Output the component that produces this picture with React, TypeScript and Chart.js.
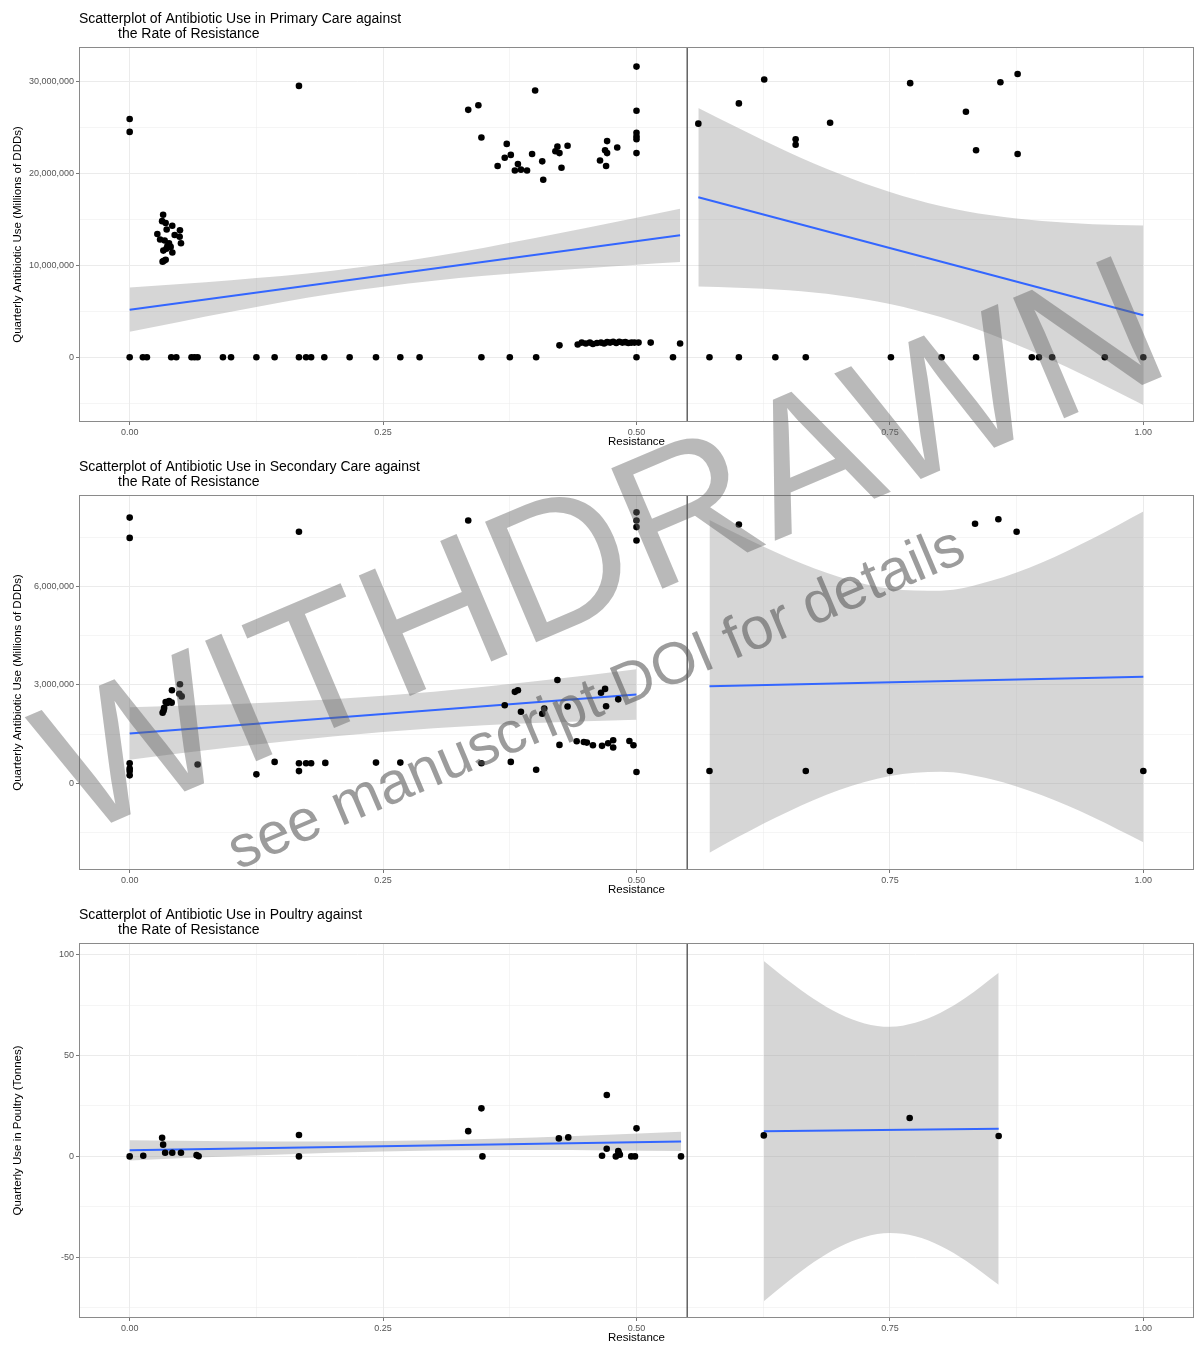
import { useEffect, useRef } from "react";
import { Chart, registerables } from "chart.js";

Chart.register(...registerables);

const FONT = '"Liberation Sans", Arial, Helvetica, sans-serif';
const BLUE = "#3366FF";
const BAND = "rgba(153,153,153,0.4)";
const MILLION = 1000000;

// shared x axis
const xMajorTicks = [0, 0.25, 0.5, 0.75, 1.0];
const xMinorTicks = [0.125, 0.375, 0.625, 0.875];
const xRange = [-0.05, 1.05];
const splitResistance = 0.55;

// ---------- Panel 1: Primary care (use in millions of DDDs) ----------
const primaryResistance = [
  0, 0, 0.167,
  0.033, 0.032, 0.0355, 0.042, 0.0365, 0.0496, 0.0273, 0.0444, 0.0493, 0.03, 0.0345, 0.0388, 0.0506, 0.0372, 0.0404, 0.0362, 0.0332, 0.0421, 0.0355, 0.0338, 0.0325,
  0.334, 0.344, 0.347, 0.363, 0.37, 0.372, 0.376, 0.38, 0.383, 0.386, 0.392, 0.397, 0.4, 0.407, 0.408, 0.42, 0.422, 0.424, 0.426, 0.432, 0.464, 0.469, 0.47, 0.471, 0.471, 0.481, 0.5, 0.5, 0.5, 0.5, 0.5, 0.5,
  0.424, 0.442, 0.446, 0.45, 0.454, 0.457, 0.461, 0.465, 0.468, 0.471, 0.474, 0.477, 0.48, 0.483, 0.486, 0.489, 0.492, 0.495, 0.498, 0.502, 0.514, 0.543,
  0, 0.013, 0.017, 0.041, 0.046, 0.061, 0.064, 0.067, 0.092, 0.1, 0.125, 0.143, 0.167, 0.174, 0.179, 0.192, 0.217, 0.243, 0.267, 0.286, 0.347, 0.375, 0.401, 0.5, 0.536,
  0.572, 0.601, 0.637, 0.667, 0.751, 0.801, 0.835, 0.89, 0.897, 0.91, 0.962, 1.0,
  0.561, 0.601, 0.626, 0.657, 0.657, 0.691, 0.77, 0.825, 0.835, 0.859, 0.876, 0.876,
];
const primaryUse = [
  25.9, 24.5, 29.5,
  15.5, 14.8, 14.6, 14.3, 13.9, 13.8, 13.4, 13.3, 13.1, 12.8, 12.7, 12.4, 12.4, 12.1, 12.0, 11.8, 11.6, 11.4, 10.6, 10.5, 10.4,
  26.9, 27.4, 23.9, 20.8, 21.7, 23.2, 22.0, 20.3, 21.0, 20.4, 20.3, 22.1, 29.0, 21.3, 19.3, 22.4, 22.9, 22.2, 20.6, 23.0, 21.4, 22.5, 20.8, 22.2, 23.5, 22.8, 31.6, 26.8, 24.4, 24.0, 23.7, 22.2,
  1.3, 1.4, 1.6, 1.5, 1.6, 1.45, 1.55, 1.6, 1.5, 1.65, 1.6, 1.7, 1.55, 1.7, 1.6, 1.65, 1.55, 1.6, 1.6, 1.6, 1.6, 1.5,
  0, 0, 0, 0, 0, 0, 0, 0, 0, 0, 0, 0, 0, 0, 0, 0, 0, 0, 0, 0, 0, 0, 0, 0, 0,
  0, 0, 0, 0, 0, 0, 0, 0, 0, 0, 0, 0,
  25.4, 27.6, 30.2, 23.7, 23.1, 25.5, 29.8, 26.7, 22.5, 29.9, 30.8, 22.1,
];
const primaryLeftBandX = [0, 0.1, 0.2, 0.3, 0.4, 0.5, 0.543];
const primaryLeftLower = [2.78, 4.96, 6.91, 8.33, 9.3, 10.07, 10.37];
const primaryLeftUpper = [7.58, 8.38, 9.41, 10.95, 12.96, 15.17, 16.15];
const primaryLeftFitX = [0, 0.543];
const primaryLeftFitY = [5.18, 13.26];
const primaryRightBandX = [0.561, 0.6, 0.65, 0.7, 0.75, 0.8, 0.85, 0.9, 0.95, 1.0];
const primaryRightLower = [7.7, 7.57, 7.28, 6.72, 5.79, 4.37, 2.47, 0.17, -2.41, -5.18];
const primaryRightUpper = [27.1, 24.95, 22.3, 19.96, 17.97, 16.45, 15.43, 14.81, 14.47, 14.32];
const primaryRightFitX = [0.561, 1.0];
const primaryRightFitY = [17.4, 4.57];
const primaryYMajor = [0, 10000000, 20000000, 30000000];
const primaryYMinor = [-5000000, 5000000, 15000000, 25000000];
const primaryYRange = [-7030000, 33730000];

// ---------- Panel 2: Secondary care (use in millions of DDDs) ----------
const secondaryResistance = [
  0, 0, 0, 0, 0, 0,
  0.167, 0.334, 0.5, 0.5, 0.5, 0.5,
  0.0325, 0.0335, 0.034, 0.0355, 0.037, 0.0388, 0.0414, 0.0417, 0.049, 0.0496, 0.0513,
  0.067, 0.125, 0.143, 0.167, 0.167, 0.174, 0.179, 0.193, 0.243, 0.267, 0.347, 0.376, 0.401, 0.5,
  0.37, 0.38, 0.383, 0.386, 0.407, 0.409, 0.422, 0.432, 0.465, 0.469, 0.47, 0.482,
  0.424, 0.441, 0.448, 0.451, 0.457, 0.466, 0.472, 0.477, 0.477, 0.493, 0.497,
  0.601, 0.834, 0.857, 0.875, 0.572, 0.667, 0.75, 1.0,
];
const secondaryUse = [
  8.11, 7.49, 0.61, 0.45, 0.37, 0.24,
  7.68, 8.02, 8.27, 8.02, 7.82, 7.41,
  2.15, 2.22, 2.3, 2.48, 2.45, 2.51, 2.46, 2.84, 2.73, 3.02, 2.65,
  0.57, 0.27, 0.65, 0.61, 0.37, 0.61, 0.61, 0.62, 0.63, 0.63, 0.61, 0.65, 0.41, 0.34,
  2.38, 2.79, 2.84, 2.18, 2.12, 2.28, 3.15, 2.34, 2.76, 2.88, 2.35, 2.56,
  1.17, 1.28, 1.26, 1.24, 1.16, 1.14, 1.22, 1.31, 1.09, 1.29, 1.16,
  7.9, 7.92, 8.06, 7.68, 0.375, 0.375, 0.375, 0.375,
];
const secondaryLeftBandX = [0, 0.1, 0.2, 0.3, 0.4, 0.5];
const secondaryLeftLower = [0.72, 1.1, 1.43, 1.68, 1.84, 1.94];
const secondaryLeftUpper = [2.32, 2.41, 2.56, 2.79, 3.11, 3.48];
const secondaryLeftFitX = [0, 0.5];
const secondaryLeftFitY = [1.52, 2.71];
const secondaryRightBandX = [0.572, 0.6, 0.65, 0.7, 0.75, 0.8, 0.85, 0.9, 0.95, 1.0];
const secondaryRightLower = [-2.12, -1.64, -0.86, -0.21, 0.22, 0.35, 0.12, -0.37, -1.03, -1.8];
const secondaryRightUpper = [8.04, 7.6, 6.88, 6.3, 5.94, 5.88, 6.18, 6.74, 7.47, 8.3];
const secondaryRightFitX = [0.572, 1.0];
const secondaryRightFitY = [2.96, 3.25];
const secondaryYMajor = [0, 3000000, 6000000];
const secondaryYMinor = [-1500000, 1500000, 4500000, 7500000];
const secondaryYRange = [-2650000, 8800000];

// ---------- Panel 3: Poultry (tonnes) ----------
const poultryResistance = [
  0, 0.0134, 0.032, 0.033, 0.035, 0.042, 0.0506, 0.066, 0.068, 0.167, 0.167, 0.334, 0.347, 0.348,
  0.4234, 0.4327, 0.466, 0.4707, 0.4706, 0.4796, 0.4826, 0.482, 0.4836, 0.4948, 0.4985, 0.5, 0.5439,
  0.6256, 0.7695, 0.8573,
];
const poultryUse = [
  0, 0.3, 9.2, 5.8, 1.8, 1.8, 1.8, 0.6, 0.1, 10.6, 0, 12.5, 23.8, 0,
  8.9, 9.4, 0.3, 30.4, 3.8, 0, 1.8, 2.6, 0.8, 0, 0, 13.9, 0,
  10.4, 19.0, 10.1,
];
const poultryLeftBandX = [0, 0.1, 0.2, 0.3, 0.4, 0.544];
const poultryLeftLower = [-2.0, 0.07, 1.83, 2.91, 3.13, 2.62];
const poultryLeftUpper = [8.0, 7.55, 7.41, 7.95, 9.35, 12.18];
const poultryLeftFitX = [0, 0.544];
const poultryLeftFitY = [3.0, 7.4];
const poultryRightBandX = [0.6256, 0.65, 0.675, 0.7, 0.725, 0.75, 0.775, 0.8, 0.825, 0.8573];
const poultryRightLower = [-71.8, -61.8, -52.4, -44.9, -39.9, -38.0, -39.6, -44.4, -51.7, -63.6];
const poultryRightUpper = [96.8, 87.0, 78.0, 70.7, 65.9, 64.2, 66.2, 71.2, 78.7, 91.0];
const poultryRightFitX = [0.6256, 0.8573];
const poultryRightFitY = [12.5, 13.7];
const poultryYMajor = [-50, 0, 50, 100];
const poultryYMinor = [-75, -25, 25, 75];
const poultryYRange = [-80.1, 105.75];

type Band = { x: number[]; lower: number[]; upper: number[]; fitX: number[]; fitY: number[] };
type Spec = {
  title: string[];
  yTitle: string;
  xs: number[];
  ys: number[];
  unit: number;
  bands: Band[];
  yMajor: number[];
  yMinor: number[];
  yRange: number[];
};

const panels: Spec[] = [
  {
    title: ["Scatterplot of Antibiotic Use in Primary Care against", "the Rate of Resistance"],
    yTitle: "Quarterly Antibiotic Use (Millions of DDDs)",
    xs: primaryResistance,
    ys: primaryUse,
    unit: MILLION,
    bands: [
      { x: primaryLeftBandX, lower: primaryLeftLower, upper: primaryLeftUpper, fitX: primaryLeftFitX, fitY: primaryLeftFitY },
      { x: primaryRightBandX, lower: primaryRightLower, upper: primaryRightUpper, fitX: primaryRightFitX, fitY: primaryRightFitY },
    ],
    yMajor: primaryYMajor,
    yMinor: primaryYMinor,
    yRange: primaryYRange,
  },
  {
    title: ["Scatterplot of Antibiotic Use in Secondary Care against", "the Rate of Resistance"],
    yTitle: "Quarterly Antibiotic Use (Millions of DDDs)",
    xs: secondaryResistance,
    ys: secondaryUse,
    unit: MILLION,
    bands: [
      { x: secondaryLeftBandX, lower: secondaryLeftLower, upper: secondaryLeftUpper, fitX: secondaryLeftFitX, fitY: secondaryLeftFitY },
      { x: secondaryRightBandX, lower: secondaryRightLower, upper: secondaryRightUpper, fitX: secondaryRightFitX, fitY: secondaryRightFitY },
    ],
    yMajor: secondaryYMajor,
    yMinor: secondaryYMinor,
    yRange: secondaryYRange,
  },
  {
    title: ["Scatterplot of Antibiotic Use in Poultry against", "the Rate of Resistance"],
    yTitle: "Quarterly Use in Poultry (Tonnes)",
    xs: poultryResistance,
    ys: poultryUse,
    unit: 1,
    bands: [
      { x: poultryLeftBandX, lower: poultryLeftLower, upper: poultryLeftUpper, fitX: poultryLeftFitX, fitY: poultryLeftFitY },
      { x: poultryRightBandX, lower: poultryRightLower, upper: poultryRightUpper, fitX: poultryRightFitX, fitY: poultryRightFitY },
    ],
    yMajor: poultryYMajor,
    yMinor: poultryYMinor,
    yRange: poultryYRange,
  },
];

const PANEL_H = 448;

const inList = (list: number[], v: number) => list.some((m) => Math.abs(m - v) < 1e-6);

function Panel({ spec, top }: { spec: Spec; top: number }) {
  const ref = useRef<HTMLCanvasElement | null>(null);
  useEffect(() => {
    if (!ref.current) return;
    const u = spec.unit;
    const datasets: any[] = [];
    spec.bands.forEach((b) => {
      datasets.push({
        data: b.x.map((x, i) => ({ x, y: b.lower[i] * u })),
        borderColor: "rgba(0,0,0,0)",
        borderWidth: 0,
        pointRadius: 0,
        fill: false,
        cubicInterpolationMode: "monotone",
        order: 3,
      });
      datasets.push({
        data: b.x.map((x, i) => ({ x, y: b.upper[i] * u })),
        borderColor: "rgba(0,0,0,0)",
        borderWidth: 0,
        pointRadius: 0,
        fill: "-1",
        backgroundColor: BAND,
        cubicInterpolationMode: "monotone",
        order: 3,
      });
      datasets.push({
        data: b.fitX.map((x, i) => ({ x, y: b.fitY[i] * u })),
        borderColor: BLUE,
        borderWidth: 2,
        pointRadius: 0,
        fill: false,
        order: 2,
      });
    });
    datasets.push({
      data: spec.xs.map((x, i) => ({ x, y: spec.ys[i] * u })),
      showLine: false,
      pointRadius: 3.3,
      pointBackgroundColor: "#000",
      pointBorderColor: "#000",
      pointBorderWidth: 0,
      order: 1,
    });

    const decor = {
      id: "panelDecor",
      afterDatasetsDraw(chart: any) {
        const { ctx, chartArea, scales } = chart;
        const { left, right, top: t, bottom } = chartArea;
        ctx.save();
        const px = scales.x.getPixelForValue(splitResistance);
        ctx.strokeStyle = "#3c3c3c";
        ctx.lineWidth = 1.2;
        ctx.beginPath();
        ctx.moveTo(px, t);
        ctx.lineTo(px, bottom);
        ctx.stroke();
        ctx.strokeStyle = "#8a8a8a";
        ctx.lineWidth = 1;
        ctx.strokeRect(left + 0.5, t + 0.5, right - left - 1, bottom - t - 1);
        ctx.fillStyle = "#000";
        ctx.font = `14px ${FONT}`;
        ctx.textBaseline = "alphabetic";
        ctx.textAlign = "left";
        ctx.fillText(spec.title[0], 79, 23);
        ctx.fillText(spec.title[1], 118, 38);
        ctx.restore();
      },
    };

    const allX = [...xMajorTicks, ...xMinorTicks].sort((a, b) => a - b);
    const allY = [...spec.yMajor, ...spec.yMinor].sort((a, b) => a - b);

    const chart = new Chart(ref.current, {
      type: "line",
      data: { datasets },
      options: {
        animation: false,
        responsive: false,
        events: [],
        layout: { padding: { top: 47, right: 6, left: 0, bottom: 0 } },
        plugins: { legend: { display: false }, tooltip: { enabled: false }, title: { display: false } },
        scales: {
          x: {
            type: "linear",
            min: xRange[0],
            max: xRange[1],
            afterBuildTicks: (s: any) => {
              s.ticks = allX.map((v) => ({ value: v }));
            },
            afterFit: (s: any) => {
              s.height = 26;
            },
            ticks: {
              autoSkip: false,
              maxRotation: 0,
              padding: 2,
              color: "#555",
              font: { size: 9, family: FONT },
              callback: (v: any) => (inList(xMajorTicks, Number(v)) ? Number(v).toFixed(2) : ""),
            },
            grid: {
              color: "#ebebeb",
              lineWidth: (c: any) => (c.tick && inList(xMajorTicks, c.tick.value) ? 1 : 0.5),
              tickLength: 3,
              tickColor: (c: any) => (c.tick && inList(xMajorTicks, c.tick.value) ? "#777" : "rgba(0,0,0,0)"),
              tickWidth: 1,
            },
            border: { display: false },
            title: {
              display: true,
              text: "Resistance",
              color: "#000",
              font: { size: 11.5, family: FONT, lineHeight: 1 },
              padding: { top: 0, bottom: 0 },
            },
          },
          y: {
            type: "linear",
            min: spec.yRange[0],
            max: spec.yRange[1],
            afterBuildTicks: (s: any) => {
              s.ticks = allY.map((v) => ({ value: v }));
            },
            afterFit: (s: any) => {
              s.width = 79;
            },
            ticks: {
              autoSkip: false,
              padding: 2,
              color: "#555",
              font: { size: 9, family: FONT },
              callback: (v: any) => (inList(spec.yMajor, Number(v)) ? Number(v).toLocaleString("en-US") : ""),
            },
            grid: {
              color: "#ebebeb",
              lineWidth: (c: any) => (c.tick && inList(spec.yMajor, c.tick.value) ? 1 : 0.5),
              tickLength: 3,
              tickColor: (c: any) => (c.tick && inList(spec.yMajor, c.tick.value) ? "#777" : "rgba(0,0,0,0)"),
              tickWidth: 1,
            },
            border: { display: false },
            title: {
              display: true,
              text: spec.yTitle,
              color: "#000",
              font: { size: 11.5, family: FONT, lineHeight: 1 },
              padding: { top: 12, bottom: 0 },
            },
          },
        },
      },
      plugins: [decor],
    } as any);
    return () => chart.destroy();
  }, [spec]);
  return (
    <canvas
      ref={ref}
      width={1200}
      height={PANEL_H}
      style={{ position: "absolute", left: 0, top, width: 1200, height: PANEL_H, display: "block" }}
    />
  );
}

const watermarkMain = "WITHDRAWN";
const watermarkNote = "see manuscript DOI for details";

export default function App() {
  return (
    <div style={{ position: "absolute", left: 0, top: 0, width: 1200, height: 1360, background: "#fff", overflow: "hidden" }}>
      {panels.map((p, i) => (
        <Panel key={i} spec={p} top={i * PANEL_H} />
      ))}
      <svg
        width={1200}
        height={1360}
        style={{ position: "absolute", left: 0, top: 0, pointerEvents: "none" }}
      >
        <text
          x={75}
          y={838}
          transform="rotate(-23 75 838)"
          fontFamily={FONT}
          fontSize={190}
          fill="rgba(100,100,100,0.45)"
        >
          {watermarkMain}
        </text>
        <text
          x={238}
          y={870}
          transform="rotate(-23 238 870)"
          fontFamily={FONT}
          fontSize={59}
          fill="rgba(90,90,90,0.6)"
        >
          {watermarkNote}
        </text>
      </svg>
    </div>
  );
}
